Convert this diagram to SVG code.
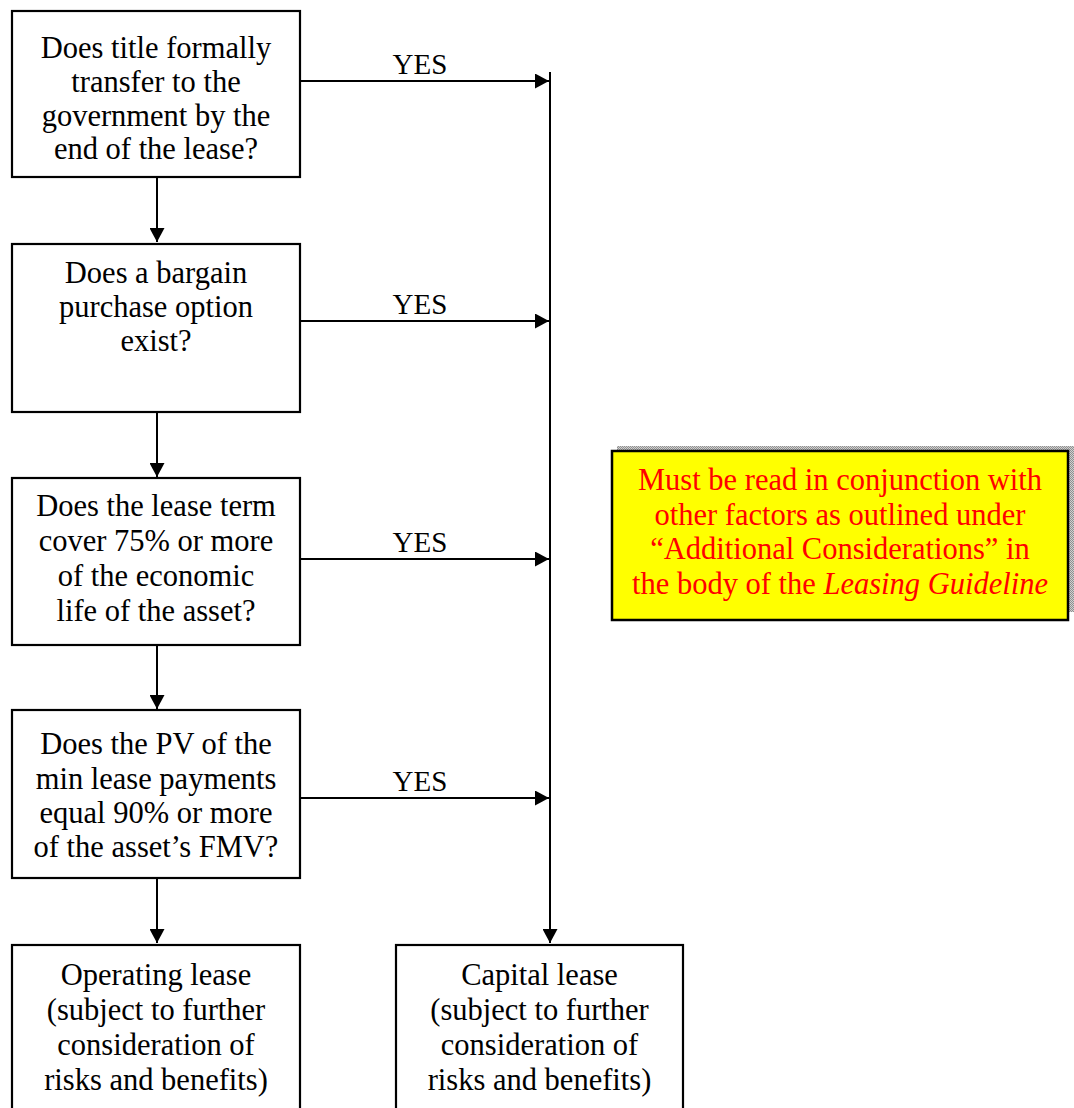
<svg xmlns="http://www.w3.org/2000/svg" width="1074" height="1108" viewBox="0 0 1074 1108">
<style>
.box{fill:#fff;stroke:#000;stroke-width:2.2}
text{font-family:'Liberation Serif', Tinos, 'Times New Roman', Times, 'DejaVu Serif', serif}
.t{font-size:30.5px;fill:#000;text-anchor:middle}
.yes{font-size:29px;fill:#000;text-anchor:middle}
.note{font-size:30.5px;fill:#ff0000;text-anchor:middle}
.ln{stroke:#000;stroke-width:2;fill:none}
.arr{marker-end:url(#ah)}
</style>
<defs>
<marker id="ah" markerUnits="userSpaceOnUse" viewBox="0 0 14 15" refX="14" refY="7.5" markerWidth="14" markerHeight="15" orient="auto">
<path d="M0,0 L14,7.5 L0,15 z" fill="#000"/>
</marker>
<pattern id="chk" patternUnits="userSpaceOnUse" width="2" height="2">
<rect width="2" height="2" fill="#d0d0d0"/>
<rect width="1" height="1" fill="#909090"/>
<rect x="1" y="1" width="1" height="1" fill="#909090"/>
</pattern>
</defs>
<g id="connectors">
<line class="ln arr" x1="157" y1="177" x2="157" y2="242"/>
<line class="ln arr" x1="157" y1="412" x2="157" y2="477"/>
<line class="ln arr" x1="157" y1="645" x2="157" y2="709"/>
<line class="ln arr" x1="157" y1="878" x2="157" y2="943"/>
<line class="ln arr" x1="300" y1="81" x2="549" y2="81"/>
<line class="ln arr" x1="300" y1="321" x2="549" y2="321"/>
<line class="ln arr" x1="300" y1="559" x2="549" y2="559"/>
<line class="ln arr" x1="300" y1="798" x2="549" y2="798"/>
<line class="ln arr" x1="550" y1="72" x2="550" y2="943"/>
<text class="yes" x="420" y="74">YES</text>
<text class="yes" x="420" y="314">YES</text>
<text class="yes" x="420" y="552">YES</text>
<text class="yes" x="420" y="791">YES</text>
</g>
<g id="q1">
<rect class="box" x="12" y="11" width="288" height="166"/>
<text class="t" x="156" y="58">Does title formally</text>
<text class="t" x="156" y="92">transfer to the</text>
<text class="t" x="156" y="126">government by the</text>
<text class="t" x="156" y="159">end of the lease?</text>
</g>
<g id="q2">
<rect class="box" x="12" y="244" width="288" height="168"/>
<text class="t" x="156" y="283">Does a bargain</text>
<text class="t" x="156" y="317">purchase option</text>
<text class="t" x="156" y="351">exist?</text>
</g>
<g id="q3">
<rect class="box" x="12" y="478" width="288" height="167"/>
<text class="t" x="156" y="516">Does the lease term</text>
<text class="t" x="156" y="551">cover 75% or more</text>
<text class="t" x="156" y="586">of the economic</text>
<text class="t" x="156" y="621">life of the asset?</text>
</g>
<g id="q4">
<rect class="box" x="12" y="710" width="288" height="168"/>
<text class="t" x="156" y="754">Does the PV of the</text>
<text class="t" x="156" y="789">min lease payments</text>
<text class="t" x="156" y="823">equal 90% or more</text>
<text class="t" x="156" y="857">of the asset’s FMV?</text>
</g>
<g id="operating">
<rect class="box" x="12" y="945" width="288" height="175"/>
<text class="t" x="156" y="985">Operating lease</text>
<text class="t" x="156" y="1020">(subject to further</text>
<text class="t" x="156" y="1055">consideration of</text>
<text class="t" x="156" y="1090">risks and benefits)</text>
</g>
<g id="capital">
<rect class="box" x="396" y="945" width="287" height="175"/>
<text class="t" x="539.5" y="985">Capital lease</text>
<text class="t" x="539.5" y="1020">(subject to further</text>
<text class="t" x="539.5" y="1055">consideration of</text>
<text class="t" x="539.5" y="1090">risks and benefits)</text>
</g>
<g id="note">
<rect x="617" y="446" width="457" height="166" fill="url(#chk)"/>
<rect x="612" y="451" width="456" height="169" fill="#ffff00" stroke="#000" stroke-width="2.5"/>
<text class="note" x="840" y="490">Must be read in conjunction with</text>
<text class="note" x="840" y="525">other factors as outlined under</text>
<text class="note" x="840" y="559">“Additional Considerations” in</text>
<text class="note" x="840" y="594">the body of the <tspan font-style="italic">Leasing Guideline</tspan></text>
</g>
</svg>
